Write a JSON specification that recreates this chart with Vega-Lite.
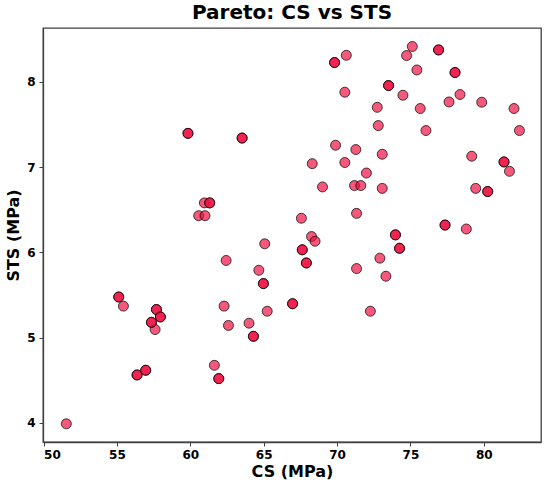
{
  "$schema": "https://vega.github.io/schema/vega-lite/v6.json",
  "autosize": {"type": "none"},
  "padding": {"left": 43, "top": 28, "right": 9, "bottom": 46},
  "width": 498,
  "height": 414,
  "background": "white",
  "title": {"text": "Pareto: CS vs STS", "font": "DejaVu Sans", "fontSize": 20, "fontWeight": "bold", "color": "black", "anchor": "middle", "offset": 5},
  "config": {
    "view": {"stroke": "#404040", "strokeWidth": 1.3},
    "axis": {"grid": false, "domainColor": "#404040", "domainWidth": 1.3, "tickColor": "#404040", "tickSize": 4, "tickWidth": 1, "labelFont": "DejaVu Sans", "labelFontSize": 12, "labelFontWeight": "bold", "labelColor": "black", "titleFont": "DejaVu Sans", "titleFontSize": 16, "titleFontWeight": "bold", "titleColor": "black"}
  },
  "data": {"values": [
    {"CS": 51.55, "STS": 3.99}, {"CS": 55.44, "STS": 5.37}, {"CS": 57.6, "STS": 5.095},
    {"CS": 60.57, "STS": 6.43}, {"CS": 61.0, "STS": 6.43}, {"CS": 60.96, "STS": 6.58},
    {"CS": 61.64, "STS": 4.676}, {"CS": 62.3, "STS": 5.37}, {"CS": 62.44, "STS": 5.905},
    {"CS": 62.6, "STS": 5.143}, {"CS": 64.0, "STS": 5.17}, {"CS": 64.67, "STS": 5.79},
    {"CS": 65.07, "STS": 6.1}, {"CS": 65.24, "STS": 5.31}, {"CS": 67.57, "STS": 6.4},
    {"CS": 68.26, "STS": 6.185}, {"CS": 68.5, "STS": 6.13}, {"CS": 68.31, "STS": 7.04},
    {"CS": 69.01, "STS": 6.767}, {"CS": 69.9, "STS": 7.256}, {"CS": 70.53, "STS": 7.053},
    {"CS": 70.53, "STS": 7.877}, {"CS": 70.63, "STS": 8.31}, {"CS": 71.19, "STS": 6.783},
    {"CS": 71.62, "STS": 6.783}, {"CS": 71.28, "STS": 7.205}, {"CS": 71.33, "STS": 6.457},
    {"CS": 71.33, "STS": 5.81}, {"CS": 72.0, "STS": 6.93}, {"CS": 72.27, "STS": 5.31},
    {"CS": 72.74, "STS": 7.7}, {"CS": 72.81, "STS": 7.486}, {"CS": 72.92, "STS": 5.932},
    {"CS": 73.08, "STS": 7.15}, {"CS": 73.08, "STS": 6.75}, {"CS": 73.33, "STS": 5.72},
    {"CS": 74.49, "STS": 7.842}, {"CS": 74.74, "STS": 8.307}, {"CS": 75.13, "STS": 8.413},
    {"CS": 75.44, "STS": 8.138}, {"CS": 75.67, "STS": 7.686}, {"CS": 76.06, "STS": 7.428},
    {"CS": 77.63, "STS": 7.763}, {"CS": 78.38, "STS": 7.85}, {"CS": 78.81, "STS": 6.274},
    {"CS": 79.18, "STS": 7.127}, {"CS": 79.45, "STS": 6.75}, {"CS": 79.86, "STS": 7.76},
    {"CS": 81.75, "STS": 6.95}, {"CS": 82.06, "STS": 7.686}, {"CS": 82.43, "STS": 7.428},
    {"CS": 55.12, "STS": 5.477}, {"CS": 55.12, "STS": 5.477},
    {"CS": 56.37, "STS": 4.563}, {"CS": 56.37, "STS": 4.563},
    {"CS": 56.96, "STS": 4.618}, {"CS": 56.96, "STS": 4.618},
    {"CS": 57.35, "STS": 5.18}, {"CS": 57.35, "STS": 5.18},
    {"CS": 57.69, "STS": 5.33}, {"CS": 57.69, "STS": 5.33},
    {"CS": 57.96, "STS": 5.243}, {"CS": 57.96, "STS": 5.243},
    {"CS": 59.84, "STS": 7.395}, {"CS": 59.84, "STS": 7.395},
    {"CS": 61.32, "STS": 6.58}, {"CS": 61.32, "STS": 6.58},
    {"CS": 61.94, "STS": 4.52}, {"CS": 61.94, "STS": 4.52},
    {"CS": 63.53, "STS": 7.34}, {"CS": 63.53, "STS": 7.34},
    {"CS": 64.3, "STS": 5.016}, {"CS": 64.3, "STS": 5.016},
    {"CS": 64.98, "STS": 5.634}, {"CS": 64.98, "STS": 5.634},
    {"CS": 66.97, "STS": 5.398}, {"CS": 66.97, "STS": 5.398},
    {"CS": 67.63, "STS": 6.03}, {"CS": 67.63, "STS": 6.03},
    {"CS": 67.91, "STS": 5.876}, {"CS": 67.91, "STS": 5.876},
    {"CS": 69.83, "STS": 8.225}, {"CS": 69.83, "STS": 8.225},
    {"CS": 73.51, "STS": 7.955}, {"CS": 73.51, "STS": 7.955},
    {"CS": 73.98, "STS": 6.205}, {"CS": 73.98, "STS": 6.205},
    {"CS": 74.26, "STS": 6.048}, {"CS": 74.26, "STS": 6.048},
    {"CS": 76.92, "STS": 8.373}, {"CS": 76.92, "STS": 8.373},
    {"CS": 77.36, "STS": 6.32}, {"CS": 77.36, "STS": 6.32},
    {"CS": 78.04, "STS": 8.108}, {"CS": 78.04, "STS": 8.108},
    {"CS": 80.27, "STS": 6.713}, {"CS": 80.27, "STS": 6.713},
    {"CS": 81.38, "STS": 7.06}, {"CS": 81.38, "STS": 7.06}
  ]},
  "mark": {"type": "point", "shape": "circle", "filled": true, "fill": "#EF0A3C", "fillOpacity": 0.68, "stroke": "black", "strokeOpacity": 0.7, "strokeWidth": 1, "size": 100},
  "encoding": {
    "x": {"field": "CS", "type": "quantitative", "title": "CS (MPa)", "scale": {"domain": [49.96, 83.9], "nice": false, "zero": false}, "axis": {"values": [50, 55, 60, 65, 70, 75, 80], "titlePadding": 3, "labelPadding": 3}},
    "y": {"field": "STS", "type": "quantitative", "title": "STS (MPa)", "scale": {"domain": [3.777, 8.63], "nice": false, "zero": false}, "axis": {"values": [4, 5, 6, 7, 8], "titlePadding": 5, "labelPadding": 4}}
  }
}
